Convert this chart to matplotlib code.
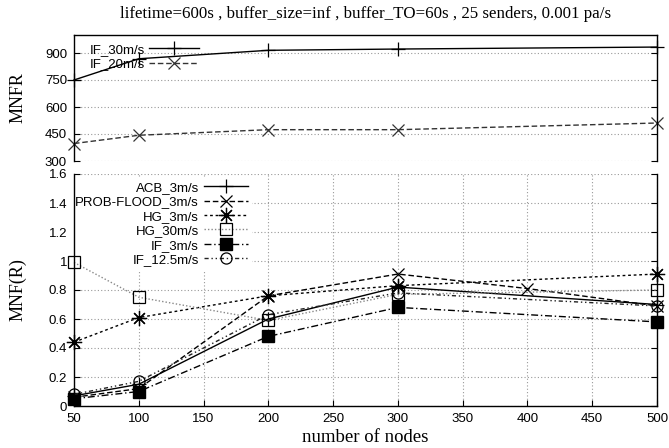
import numpy as np
import matplotlib
matplotlib.use("Agg")
import matplotlib.pyplot as plt

# top panel: MNFR
top_nodes = [50, 100, 200, 300, 500]
if_30 = [750, 868, 915, 922, 933]
if_20 = [397, 443, 474, 474, 511]

# bottom panel: MNF(R)
nodes = [50, 100, 200, 300, 500]
pf_nodes = [50, 100, 200, 300, 400, 500]
acb_3 = [0.07, 0.15, 0.60, 0.82, 0.70]
prob_flood_3 = [0.06, 0.12, 0.76, 0.91, 0.81, 0.69]
hg_3 = [0.44, 0.61, 0.76, 0.83, 0.91]
hg_30 = [0.99, 0.75, 0.59, 0.77, 0.80]
if_3 = [0.05, 0.10, 0.48, 0.68, 0.58]
if_125 = [0.08, 0.17, 0.63, 0.78, 0.69]

title = "lifetime=600s , buffer_size=inf , buffer_TO=60s , 25 senders, 0.001 pa/s"

W, H = 669, 448
fig = plt.figure(figsize=(W / 100, H / 100), dpi=100)

def px_axes(x0, y0, x1, y1):
    return fig.add_axes([x0 / W, 1 - y1 / H, (x1 - x0) / W, (y1 - y0) / H])

ax_top = px_axes(74, 35, 657, 161)
ax_bot = px_axes(74, 174, 657, 406)

serif = "Liberation Serif"
sans = "Liberation Sans"
grid_kw = dict(color="#999999", linestyle=(0, (1, 2)), linewidth=0.8)
star = (8, 2, 0)
label_x = (27 - 74) / 583

for ax in (ax_top, ax_bot):
    ax.set_xlim(50, 500)
    ax.tick_params(direction="in", length=4, width=0.8, right=True, top=False,
                   labelsize=9.5, colors="black", pad=5)
    for s in ax.spines.values():
        s.set_linewidth(1.0)

# top panel
ax_top.set_ylim(300, 1000)
ax_top.set_yticks([300, 450, 600, 750, 900])
ax_top.set_xticks([])
ax_top.spines["bottom"].set_visible(False)
ax_top.yaxis.grid(True, **grid_kw)
ax_top.set_axisbelow(True)
ax_top.plot(top_nodes, if_30, color="black", lw=1.0, marker="+", ms=10,
            mew=0.9, label="IF_30m/s", clip_on=False)
ax_top.plot(top_nodes, if_20, color="#333333", lw=1.0, ls=(0, (4, 2)), marker="x",
            ms=9, mew=0.9, label="IF_20m/s", clip_on=False)
ax_top.set_ylabel("MNFR", family=serif, size=13)
ax_top.yaxis.set_label_coords(label_x, 0.5)
leg_top = ax_top.legend(loc="upper left", bbox_to_anchor=(0.027, 0.93), markerfirst=False,
                        frameon=False, prop=dict(family=sans, size=9.5),
                        handlelength=3.8, handletextpad=0.3, labelspacing=0.15,
                        borderpad=0, borderaxespad=0)
leg_top.set_zorder(1.5)

# bottom panel
ax_bot.set_ylim(0, 1.6)
ax_bot.set_yticks([0, 0.2, 0.4, 0.6, 0.8, 1.0, 1.2, 1.4, 1.6])
ax_bot.set_yticklabels(["0", "0.2", "0.4", "0.6", "0.8", "1", "1.2", "1.4", "1.6"])
ax_bot.set_xticks(range(50, 501, 50))
ax_bot.spines["top"].set_visible(False)
ax_bot.grid(True, **grid_kw)
ax_bot.set_axisbelow(True)

ax_bot.plot(nodes, acb_3, color="black", lw=1.0, marker="+", ms=10, mew=0.9,
            label="ACB_3m/s", clip_on=False)
ax_bot.plot(pf_nodes, prob_flood_3, color="black", lw=1.0, ls=(0, (4, 2)), marker="x",
            ms=9, mew=0.9, label="PROB-FLOOD_3m/s", clip_on=False)
ax_bot.plot(nodes, hg_3, color="black", lw=1.0, ls=(0, (2, 2)), marker=star,
            ms=11, mew=0.9, label="HG_3m/s", clip_on=False)
ax_bot.plot(nodes, hg_30, color="#888888", lw=1.0, ls=(0, (1, 1.5)), marker="s",
            ms=8, mew=0.9, mec="black", mfc="none", label="HG_30m/s", clip_on=False)
ax_bot.plot(nodes, if_3, color="black", lw=1.0, ls=(0, (5, 2, 1, 2)), marker="s",
            ms=8, mec="black", mfc="black", label="IF_3m/s", clip_on=False)
ax_bot.plot(nodes, if_125, color="#222222", lw=1.0, ls=(0, (3, 2, 1, 2, 1, 2)), marker="o",
            ms=8, mew=0.9, mec="black", mfc="none", label="IF_12.5m/s", clip_on=False)

leg = ax_bot.legend(loc="upper right", bbox_to_anchor=(0.305, 0.985), markerfirst=False,
                    frameon=True, prop=dict(family=sans, size=9.5),
                    handlelength=3.3, handletextpad=0.4, labelspacing=0.17,
                    borderpad=0.3, borderaxespad=0, fancybox=False)
leg.get_frame().set_facecolor("white")
leg.get_frame().set_edgecolor("none")
leg.get_frame().set_alpha(1.0)
leg.set_zorder(1.5)

ax_bot.set_ylabel("MNF(R)", family=serif, size=13)
ax_bot.yaxis.set_label_coords(label_x, 0.5)
ax_bot.set_xlabel("number of nodes", family=serif, size=13.5, labelpad=3)

for ax in (ax_top, ax_bot):
    for lbl in ax.get_xticklabels() + ax.get_yticklabels():
        lbl.set_family(sans)

fig.text((74 + 657) / 2 / W, 1 - 14 / H, title, family=serif, size=12.2,
         ha="center", va="center")

fig.savefig("out.png", dpi=100)
